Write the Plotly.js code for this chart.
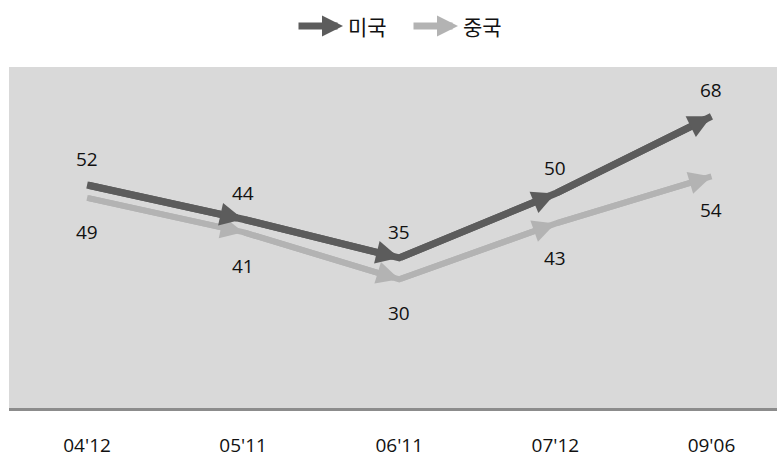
<!DOCTYPE html>
<html><head><meta charset="utf-8">
<script src="https://cdn.plot.ly/plotly-3.0.1.min.js"></script>
<style>html,body{margin:0;padding:0;background:#fff;overflow:hidden}</style>
</head><body>
<div id="chart" style="width:777px;height:457px"></div>
<script>
const categories = ["04'12", "05'11", "06'11", "07'12", "09'06"];
const usValues = [52, 44, 35, 50, 68];
const cnValues = [49, 41, 30, 43, 54];
const seriesNames = ["미국", "중국"];

const darkColor = '#5c5c5c';
const lightColor = '#b3b3b3';
const font = '"Open Sans", "Noto Sans CJK KR", sans-serif';

const plotTop = 67, plotH = 341, plotL = 9, plotW = 768;

function lineTrace(vals, color, lw) {
  return {
    type: 'scatter', mode: 'lines', x: categories, y: vals,
    line: {color: color, width: lw},
    showlegend: false, hoverinfo: 'skip', cliponaxis: false
  };
}

const annotations = [];
// arrowheads on each segment, drawn from the data
function addArrows(vals, color, lw, asize) {
  for (let i = 1; i < vals.length; i++) {
    annotations.push({x: categories[i], y: vals[i], xref: 'x', yref: 'y',
      ax: categories[i - 1], ay: vals[i - 1], axref: 'x', ayref: 'y',
      text: '', showarrow: true, arrowhead: 2, arrowsize: asize, arrowwidth: lw,
      arrowcolor: color, standoff: 0, startstandoff: 0});
  }
}
addArrows(cnValues, lightColor, 6, 0.75);
addArrows(usValues, darkColor, 7, 0.66);

usValues.forEach((v, i) => annotations.push({x: categories[i], y: v, xref: 'x', yref: 'y',
  text: String(v), showarrow: false, yshift: 26, font: {family: font, size: 19, color: '#111'}}));
cnValues.forEach((v, i) => annotations.push({x: categories[i], y: v, xref: 'x', yref: 'y',
  text: String(v), showarrow: false, yshift: -34, font: {family: font, size: 19, color: '#111'}}));

// legend built from arrows + text
const legendY = 1 + (plotTop - 26) / plotH;
const legendItems = [
  {name: seriesNames[0], color: darkColor, head: 343, textx: 346},
  {name: seriesNames[1], color: lightColor, head: 458, textx: 461}
];
legendItems.forEach(it => {
  annotations.push({xref: 'paper', yref: 'paper', x: (it.head - plotL) / plotW, y: legendY,
    ax: -46, ay: 0, text: '', showarrow: true, arrowhead: 2, arrowsize: 0.6, arrowwidth: 7,
    arrowcolor: it.color, standoff: 0});
  annotations.push({xref: 'paper', yref: 'paper', x: (it.textx - plotL) / plotW, y: legendY,
    xanchor: 'left', yanchor: 'middle', text: it.name, showarrow: false,
    font: {family: '"Noto Sans CJK KR", sans-serif', size: 21, color: '#111'}});
});

const layout = {
  width: 777, height: 457,
  margin: {l: plotL, r: 0, t: plotTop, b: 457 - plotTop - plotH},
  paper_bgcolor: '#ffffff', plot_bgcolor: '#d9d9d9',
  showlegend: false,
  xaxis: {type: 'category', range: [-0.5, 4.42], showgrid: false, zeroline: false,
    showline: true, linecolor: '#8c8c8c', linewidth: 3, ticks: '',
    ticklabelstandoff: 18, tickfont: {family: font, size: 19, color: '#111'}},
  yaxis: {range: [0, 79.5], visible: false, showgrid: false, zeroline: false},
  annotations: annotations
};

Plotly.newPlot('chart', [lineTrace(cnValues, lightColor, 6), lineTrace(usValues, darkColor, 7)], layout, {staticPlot: true});
</script>
</body></html>
